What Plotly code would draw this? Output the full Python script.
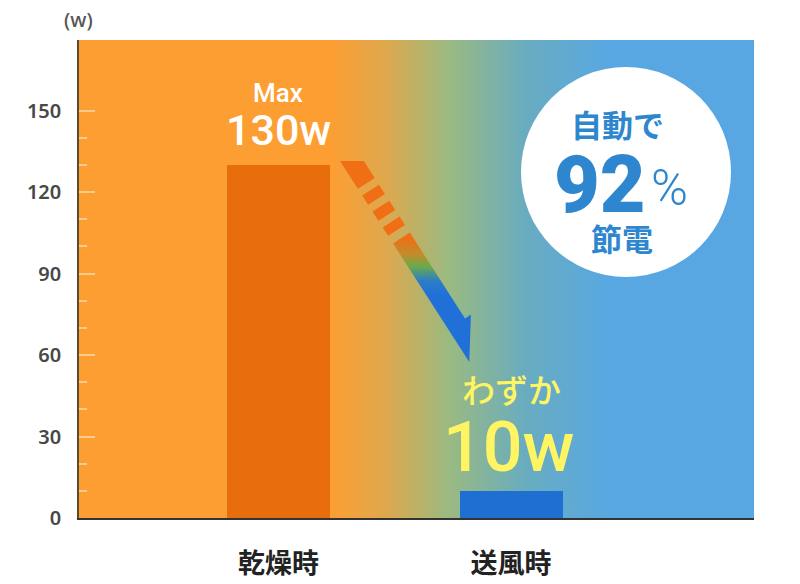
import plotly.graph_objects as go

# ---------------- data ----------------
categories = ["乾燥時", "送風時"]
watts = [130, 10]
bar_colors = ["#E86D0C", "#1F6FD2"]
y_major_ticks = [0, 30, 60, 90, 120, 150]
y_minor_ticks = [10, 20, 40, 50, 70, 80, 100, 110, 130, 140]
unit_label = "(w)"
max_label = ["Max", "130w"]
min_label = ["わずか", "10w"]
badge_text = ["自動で", "92", "%", "節電"]

# ---------------- layout geometry (pixels) ----------------
W, H = 800, 584
PL, PR, PT, PB = 79, 754, 40, 518          # plot area
Y_MAX = 176
X_LO, X_HI = -0.858, 2.045

def px2x(px):
    return X_LO + (px - PL) / (PR - PL) * (X_HI - X_LO)

fig = go.Figure()

# gradient background of the plot area (main axes, drawn first)
fig.add_trace(go.Scatter(
    x=[X_LO, X_HI, X_HI, X_LO, X_LO], y=[0, 0, Y_MAX, Y_MAX, 0],
    fill="toself", mode="lines", line=dict(width=0), hoverinfo="skip",
    fillgradient=dict(type="horizontal", start=px2x(330), stop=px2x(610),
                      colorscale=[[0, "rgb(253,158,50)"], [0.2, "rgb(222,168,78)"],
                                  [0.42, "rgb(155,186,128)"], [0.7, "rgb(105,172,192)"],
                                  [1, "rgb(88,167,226)"]]),
    showlegend=False))

# bars (overlay axes with identical ranges, so they sit above the background)
fig.add_trace(go.Bar(x=[0, 1], y=watts, width=0.443, xaxis="x3", yaxis="y3",
                     marker=dict(color=bar_colors, line=dict(width=0)),
                     hoverinfo="skip", showlegend=False))

# ---------------- arrow (decoration, pixel coords on overlay axes) ----------------
S = (340.0, 161.0)
d = (0.541, 0.841)
n = (0.841, -0.541)
AW = 20.0

def L(t):
    return (S[0] + t * d[0], S[1] + t * d[1])

def R(t):
    p = L(t)
    return (p[0] + AW * n[0], p[1] + AW * n[1])

def poly(pts, color=None, grad=None):
    xs = [p[0] for p in pts] + [pts[0][0]]
    ys = [p[1] for p in pts] + [pts[0][1]]
    kw = dict(x=xs, y=ys, xaxis="x2", yaxis="y2", fill="toself", mode="lines",
              line=dict(width=0), hoverinfo="skip", showlegend=False)
    if grad:
        kw["fillgradient"] = grad
    else:
        kw["fillcolor"] = color
    fig.add_trace(go.Scatter(**kw))

ORANGE_A = "#F06E14"
t0 = 10.8 / 0.841
poly([L(0), (R(t0)[0], S[1]), R(33), L(33)], ORANGE_A)
for a, b in [(41, 52), (60, 71), (79, 89)]:
    poly([L(a), R(a), R(b), L(b)], ORANGE_A)
th = 200
rb = R(th)
barb = (rb[0] + 7 * n[0], rb[1] + 7 * n[1])
tip = L(239)
poly([L(98), R(98), rb, barb, tip],
     grad=dict(type="vertical", start=238, stop=295,
               colorscale=[[0, "rgb(240,110,20)"], [0.3, "rgb(190,142,45)"],
                           [0.5, "rgb(105,170,75)"], [0.75, "rgb(45,125,200)"],
                           [1, "rgb(32,112,216)"]]))

# ---------------- badge circle ----------------
fig.add_shape(type="circle", xref="x2", yref="y2", x0=521, x1=731, y0=67, y1=277,
              fillcolor="white", line=dict(width=0), layer="above")

BLUE_T = "#2E87CE"
JP = "Noto Sans CJK JP"
NUM = "Roboto"

def ann(text, x, y, size, color, family, weight=400, xanchor="center"):
    fig.add_annotation(text=text, x=x, y=y, xref="x2", yref="y2", showarrow=False,
                       xanchor=xanchor, yanchor="middle",
                       font=dict(size=size, color=color, family=family, weight=weight))

# unit label above the plot (paper coords)
fig.add_annotation(text=unit_label, x=(78 - PL) / (PR - PL), y=(PB - 19) / (PB - PT),
                   xref="paper", yref="paper", showarrow=False, xanchor="center", yanchor="middle",
                   font=dict(size=20, color="#555555", family="Noto Sans", weight=500))

ann(max_label[0], 278, 93, 26, "white", NUM, 500)
ann(max_label[1], 278, 130, 43, "white", NUM, 500)
ann(min_label[0], 511, 389, 33, "#FFF462", JP, 500)
ann(min_label[1], 509, 447, 70, "#FFF462", NUM, 500)
ann(badge_text[0], 617, 123, 31, BLUE_T, JP, 700)
ann(badge_text[1], 648, 185, 79, BLUE_T, NUM, 900, xanchor="right")
ann(badge_text[2], 649, 188, 50, BLUE_T, NUM, 300, xanchor="left")
ann(badge_text[3], 622, 237, 31, BLUE_T, JP, 700)

# ---------------- layout ----------------
fig.update_layout(
    width=W, height=H, autosize=False,
    margin=dict(l=PL, r=W - PR, t=PT, b=H - PB, pad=0, autoexpand=False),
    paper_bgcolor="white", plot_bgcolor="white",
    bargap=0,
    xaxis=dict(range=[X_LO, X_HI], tickvals=[0, 1], ticktext=categories, automargin=False,
               showgrid=False, zeroline=False, showline=True, linecolor="#333333", linewidth=2,
               ticks="", ticklabelstandoff=21,
               tickfont=dict(size=27, color="#222222", family=JP, weight=700), fixedrange=True),
    yaxis=dict(range=[0, Y_MAX], tickvals=y_major_ticks, showgrid=False, zeroline=False,
               automargin=False,
               showline=True, linecolor="#5a4a30", linewidth=1.5,
               ticks="inside", ticklen=16, tickwidth=1.5, tickcolor="rgba(255,255,255,0.45)",
               minor=dict(tickmode="array", tickvals=y_minor_ticks, ticks="inside", ticklen=8,
                          tickwidth=1.5, tickcolor="rgba(255,255,255,0.45)", showgrid=False),
               ticklabelstandoff=12,
               tickfont=dict(size=20, color="#484848", family="Noto Sans", weight=600), fixedrange=True),
    xaxis2=dict(overlaying="x", range=[PL, PR], visible=False, fixedrange=True, automargin=False),
    yaxis2=dict(overlaying="y", range=[PB, PT], visible=False, fixedrange=True, automargin=False),
    xaxis3=dict(overlaying="x", range=[X_LO, X_HI], visible=False, fixedrange=True, automargin=False),
    yaxis3=dict(overlaying="y", range=[0, Y_MAX], visible=False, fixedrange=True, automargin=False),
)

fig.write_html(
    "out.html", div_id="chart", config={"displayModeBar": False},
    post_script=(
        "document.documentElement.style.margin='0';document.documentElement.style.overflow='hidden';"
        "document.body.style.margin='0';document.body.style.overflow='hidden';"
        "var g=document.getElementById('chart');g.style.position='fixed';g.style.left='0';g.style.top='0';"
    ),
)
